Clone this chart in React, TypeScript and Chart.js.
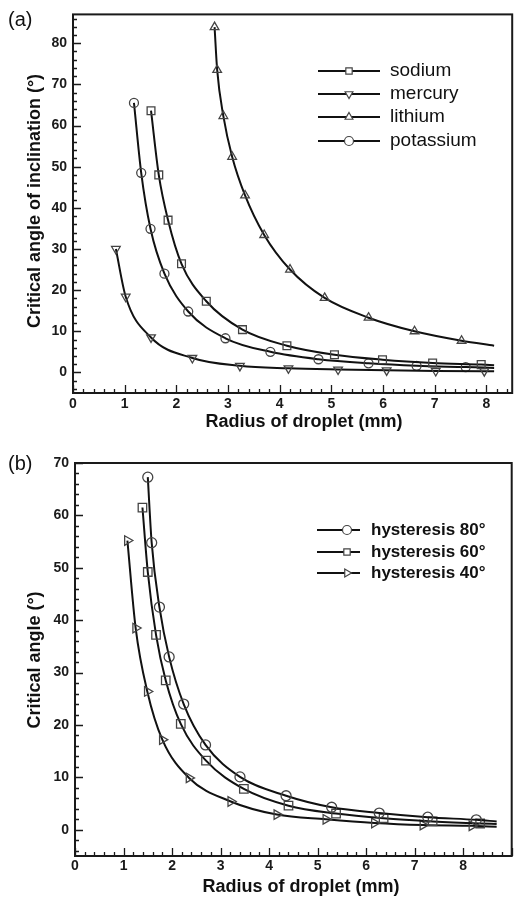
import React, { useEffect, useRef } from 'react';
import { Chart, registerables } from 'chart.js';
import { drawPoint } from 'chart.js/helpers';

Chart.register(...registerables);

const FONT = '"Liberation Sans", Arial, Helvetica, sans-serif';

// ---------------- Panel (a) data ----------------
const A_LABELS = ['sodium', 'mercury', 'lithium', 'potassium'];

const A_SODIUM_X = [1.51, 1.66, 1.84, 2.1, 2.58, 3.28, 4.14, 5.06, 5.99, 6.96, 7.9];
const A_SODIUM_Y = [63.6, 48, 37, 26.4, 17.3, 10.4, 6.5, 4.3, 3.1, 2.3, 1.9];
const A_SODIUM_END = [8.15, 1.75];

const A_MERCURY_X = [0.83, 1.02, 1.51, 2.31, 3.23, 4.17, 5.13, 6.07, 7.02, 7.96];
const A_MERCURY_Y = [30, 18.4, 8.5, 3.5, 1.6, 1.0, 0.7, 0.5, 0.35, 0.3];
const A_MERCURY_END = [8.15, 0.3];

const A_LITHIUM_X = [2.74, 2.79, 2.91, 3.08, 3.33, 3.7, 4.2, 4.87, 5.72, 6.61, 7.52];
const A_LITHIUM_Y = [83.9, 73.5, 62.3, 52.4, 43, 33.4, 25, 18.1, 13.3, 10, 7.7];
const A_LITHIUM_END = [8.15, 6.5];

const A_POTASSIUM_X = [1.18, 1.32, 1.5, 1.77, 2.23, 2.95, 3.82, 4.75, 5.72, 6.65, 7.6];
const A_POTASSIUM_Y = [65.5, 48.5, 34.9, 24, 14.8, 8.3, 5, 3.2, 2.2, 1.6, 1.3];
const A_POTASSIUM_END = [8.15, 1.1];

const A_X_TICKS = [0, 1, 2, 3, 4, 5, 6, 7, 8];
const A_Y_TICKS = [0, 10, 20, 30, 40, 50, 60, 70, 80];

// ---------------- Panel (b) data ----------------
const B_LABELS = ['hysteresis 80°', 'hysteresis 60°', 'hysteresis 40°'];

const B_H80_X = [1.5, 1.58, 1.74, 1.94, 2.24, 2.69, 3.4, 4.35, 5.29, 6.27, 7.27, 8.27];
const B_H80_Y = [67.3, 54.8, 42.5, 33, 24, 16.2, 10.1, 6.5, 4.3, 3.2, 2.4, 1.9];
const B_H80_END = [8.69, 1.6];

const B_H60_X = [1.39, 1.5, 1.67, 1.87, 2.18, 2.7, 3.48, 4.4, 5.38, 6.36, 7.37, 8.35];
const B_H60_Y = [61.5, 49.2, 37.2, 28.5, 20.2, 13.2, 7.8, 4.6, 3.1, 2.2, 1.6, 1.2];
const B_H60_END = [8.69, 1.1];

const B_H40_X = [1.08, 1.25, 1.49, 1.8, 2.35, 3.21, 4.16, 5.17, 6.17, 7.17, 8.18];
const B_H40_Y = [55.2, 38.5, 26.4, 17.2, 9.9, 5.4, 2.9, 2.0, 1.3, 0.9, 0.75];
const B_H40_END = [8.69, 0.6];

const B_X_TICKS = [0, 1, 2, 3, 4, 5, 6, 7, 8];
const B_Y_TICKS = [0, 10, 20, 30, 40, 50, 60, 70];

// ---------------- helpers ----------------
function makeDataset(label: string, xs: number[], ys: number[], end: number[], style: string, rotation: number, radius: number) {
  const data = xs.map((x, i) => ({ x, y: ys[i] })).concat([{ x: end[0], y: end[1] }]);
  return {
    label,
    data,
    borderColor: '#111',
    borderWidth: 2,
    pointStyle: style,
    pointRotation: rotation,
    pointRadius: data.map((_, i) => (i === data.length - 1 ? 0 : radius)),
    pointHoverRadius: 0,
    pointBorderColor: '#444',
    pointBackgroundColor: 'rgba(255,255,255,0)',
    pointBorderWidth: 1.3,
    cubicInterpolationMode: 'monotone',
    fill: false,
  };
}

const decor = {
  id: 'decor',
  afterDatasetsDraw(chart: any, _args: any, o: any) {
    const { ctx, chartArea: a } = chart;
    const xs = chart.scales.x;
    const ys = chart.scales.y;
    ctx.save();
    ctx.strokeStyle = '#1a1a1a';
    ctx.lineWidth = 1.3;
    ctx.beginPath();
    for (let i = 0; ; i++) {
      const v = o.xMinor[0] + i * o.xMinor[2];
      if (v > o.xMinor[1] + 1e-6) break;
      const px = Math.round(xs.getPixelForValue(v)) + 0.5;
      const r = v / o.xMajor;
      const major = Math.abs(r - Math.round(r)) < 1e-6;
      ctx.moveTo(px, a.bottom);
      ctx.lineTo(px, a.bottom - (major ? 8 : 4));
    }
    for (let i = 0; ; i++) {
      const v = o.yMinor[0] + i * o.yMinor[2];
      if (v > o.yMinor[1] + 1e-6) break;
      const py = Math.round(ys.getPixelForValue(v)) + 0.5;
      const r = v / o.yMajor;
      const major = Math.abs(r - Math.round(r)) < 1e-6;
      ctx.moveTo(a.left, py);
      ctx.lineTo(a.left + (major ? 8 : 4), py);
    }
    ctx.stroke();

    ctx.lineWidth = 2;
    ctx.strokeRect(a.left, a.top, a.right - a.left, a.bottom - a.top);

    // axis titles
    ctx.fillStyle = '#111';
    ctx.font = `bold 18px ${FONT}`;
    ctx.textAlign = 'center';
    ctx.textBaseline = 'middle';
    ctx.fillText(o.xTitle, o.xTitlePos[0], o.xTitlePos[1]);
    ctx.save();
    ctx.translate(o.yTitlePos[0], o.yTitlePos[1]);
    ctx.rotate(-Math.PI / 2);
    ctx.fillText(o.yTitle, 0, 0);
    ctx.restore();

    // legend
    const L = o.legend;
    chart.data.datasets.forEach((ds: any, i: number) => {
      const y = L.rows[i];
      ctx.strokeStyle = '#111';
      ctx.lineWidth = 2;
      ctx.beginPath();
      ctx.moveTo(L.x0, y);
      ctx.lineTo(L.x1, y);
      ctx.stroke();
      ctx.strokeStyle = '#444';
      ctx.fillStyle = '#fff';
      ctx.lineWidth = 1.2;
      drawPoint(ctx, { pointStyle: ds.pointStyle, rotation: ds.pointRotation, radius: L.radius, borderWidth: 1.2 }, L.mx, y);
      ctx.fillStyle = '#111';
      ctx.font = L.font;
      ctx.textAlign = 'left';
      ctx.textBaseline = 'middle';
      ctx.fillText(ds.label, L.tx, y);
    });
    ctx.restore();
  },
};

function buildConfig(p: any) {
  const tickFont = { family: FONT, size: 14, weight: 'bold' as const };
  return {
    type: 'line',
    data: { datasets: p.datasets },
    plugins: [decor],
    options: {
      responsive: false,
      animation: false,
      devicePixelRatio: 1,
      layout: { padding: p.padding },
      plugins: {
        legend: { display: false },
        tooltip: { enabled: false },
        decor: p.decor,
      },
      scales: {
        x: {
          type: 'linear',
          min: p.xMin,
          max: p.xMax,
          afterBuildTicks: (s: any) => {
            s.ticks = p.xTicks.map((v: number) => ({ value: v }));
          },
          afterFit: (s: any) => {
            s.height = p.xHeight;
          },
          grid: { display: false, drawTicks: false },
          border: { display: false },
          ticks: { color: '#1a1a1a', padding: p.xPad, font: tickFont, maxRotation: 0, autoSkip: false, callback: (v: any) => String(v) },
        },
        y: {
          type: 'linear',
          min: p.yMin,
          max: p.yMax,
          afterBuildTicks: (s: any) => {
            s.ticks = p.yTicks.map((v: number) => ({ value: v }));
          },
          afterFit: (s: any) => {
            s.width = p.yWidth;
          },
          grid: { display: false, drawTicks: false },
          border: { display: false },
          ticks: { color: '#1a1a1a', padding: 6, font: tickFont, autoSkip: false, callback: (v: any) => String(v) },
        },
      },
    },
  };
}

function configA() {
  return buildConfig({
    datasets: [
      makeDataset(A_LABELS[0], A_SODIUM_X, A_SODIUM_Y, A_SODIUM_END, 'rect', 0, 5.5),
      makeDataset(A_LABELS[1], A_MERCURY_X, A_MERCURY_Y, A_MERCURY_END, 'triangle', 180, 5),
      makeDataset(A_LABELS[2], A_LITHIUM_X, A_LITHIUM_Y, A_LITHIUM_END, 'triangle', 0, 5),
      makeDataset(A_LABELS[3], A_POTASSIUM_X, A_POTASSIUM_Y, A_POTASSIUM_END, 'circle', 0, 4.5),
    ],
    padding: { top: 10, right: 2, left: 0, bottom: 0 },
    xMin: 0,
    xMax: 8.5,
    yMin: -5,
    yMax: 87,
    xTicks: A_X_TICKS,
    yTicks: A_Y_TICKS,
    xHeight: 47,
    yWidth: 73,
    xPad: 3,
    decor: {
      xMinor: [0, 8.4, 0.2],
      xMajor: 1,
      yMinor: [-4, 86, 2],
      yMajor: 10,
      xTitle: 'Radius of droplet (mm)',
      xTitlePos: [304, 422],
      yTitle: 'Critical angle of inclination (°)',
      yTitlePos: [35, 201],
      legend: { rows: [71, 94, 117, 141], x0: 318, x1: 380, mx: 349, tx: 390, radius: 4.5, font: `19px ${FONT}` },
    },
  });
}

function configB() {
  return buildConfig({
    datasets: [
      makeDataset(B_LABELS[0], B_H80_X, B_H80_Y, B_H80_END, 'circle', 0, 5),
      makeDataset(B_LABELS[1], B_H60_X, B_H60_Y, B_H60_END, 'rect', 0, 6),
      makeDataset(B_LABELS[2], B_H40_X, B_H40_Y, B_H40_END, 'triangle', 90, 5.5),
    ],
    padding: { top: 23, right: 1, left: 0, bottom: 0 },
    xMin: 0,
    xMax: 9,
    yMin: -5,
    yMax: 70,
    xTicks: B_X_TICKS,
    yTicks: B_Y_TICKS,
    xHeight: 44,
    yWidth: 75,
    xPad: 2,
    decor: {
      xMinor: [0, 9, 0.2],
      xMajor: 1,
      yMinor: [-4, 70, 2],
      yMajor: 10,
      xTitle: 'Radius of droplet (mm)',
      xTitlePos: [301, 447],
      yTitle: 'Critical angle (°)',
      yTitlePos: [35, 220],
      legend: { rows: [90, 112, 133], x0: 317, x1: 360, mx: 347, tx: 371, radius: 4.5, font: `bold 17px ${FONT}` },
    },
  });
}

function ChartCanvas({ make, width, height }: { make: () => any; width: number; height: number }) {
  const ref = useRef<HTMLCanvasElement>(null);
  useEffect(() => {
    const chart = new Chart(ref.current as HTMLCanvasElement, make() as any);
    return () => chart.destroy();
  }, []);
  return <canvas ref={ref} width={width} height={height} style={{ display: 'block', width, height }} />;
}

export default function App() {
  const panelLabel: React.CSSProperties = {
    position: 'absolute',
    left: 8,
    fontFamily: FONT,
    fontSize: 20,
    lineHeight: '20px',
    color: '#111',
  };
  return (
    <div style={{ position: 'absolute', left: 0, top: 0, width: 519, height: 900, background: '#fff', overflow: 'hidden' }}>
      <div style={{ position: 'absolute', left: 0, top: 0 }}>
        <ChartCanvas make={configA} width={519} height={440} />
      </div>
      <div style={{ position: 'absolute', left: 0, top: 440 }}>
        <ChartCanvas make={configB} width={519} height={460} />
      </div>
      <div style={{ ...panelLabel, top: 9 }}>(a)</div>
      <div style={{ ...panelLabel, top: 453 }}>(b)</div>
    </div>
  );
}
